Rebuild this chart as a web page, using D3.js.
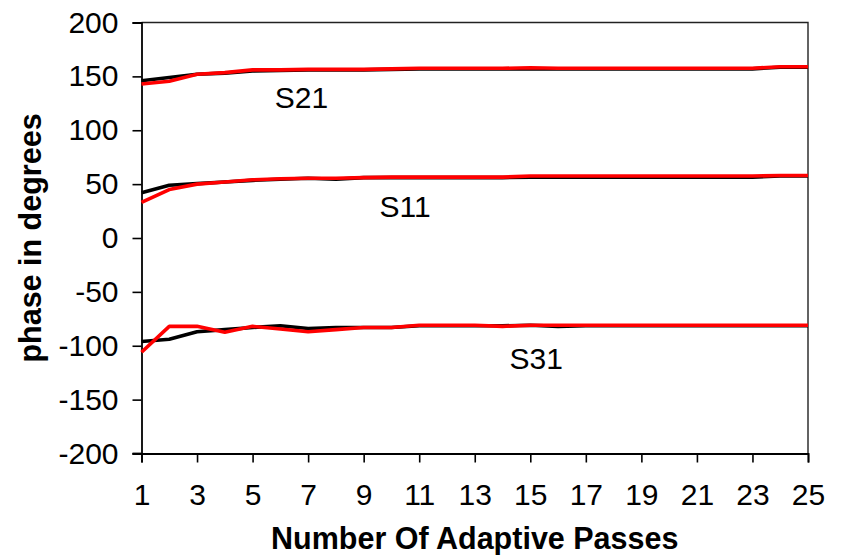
<!DOCTYPE html>
<html>
<head>
<meta charset="utf-8">
<script src="https://cdn.jsdelivr.net/npm/d3@7"></script>
<style>
  html, body { margin: 0; padding: 0; background: #fff; }
  svg { display: block; font-family: "Liberation Sans", Arial, sans-serif; }
</style>
</head>
<body>
<svg id="chart" width="842" height="555"></svg>
<script>
// ---- data ----
const passes = [1,2,3,4,5,6,7,8,9,10,11,12,13,14,15,16,17,18,19,20,21,22,23,24,25];
const xTickValues = [1,3,5,7,9,11,13,15,17,19,21,23,25];
const yTickValues = [-200,-150,-100,-50,0,50,100,150,200];

const s21Black = [146,149,152,153,155,155.5,156,156,156,156.5,157,157,157,157,157,157,157,157,157,157,157,157,157,158.5,158.5];
const s21Red   = [143,145.5,152,153.5,156,156,156.5,156.5,156.5,157,157.5,157.5,157.5,157.5,158,157.5,157.5,157.5,157.5,157.5,157.5,157.5,157.5,159,159];
const s11Black = [42,49,50.5,52,53.5,54.5,55.5,54.5,56,56,56,56,56,56,56.5,56.5,56.5,56.5,56.5,56.5,56.5,56.5,56.5,57.5,57.5];
const s11Red   = [33,45,50,52,54,55,55.5,55.5,56,56.5,56.5,56.5,56.5,56.5,57.5,57.5,57.5,57.5,57.5,57.5,57.5,57.5,57.5,58,58];
const s31Black = [-96,-94,-87,-85,-83,-81.5,-84,-83,-83,-83,-81.5,-81.5,-81.5,-81.5,-81,-82,-81.5,-81.5,-81.5,-81.5,-81.5,-81.5,-81.5,-81.5,-81.5];
const s31Red   = [-106,-82,-82,-87.5,-82,-84.5,-87,-85,-83,-83,-81,-81,-81,-82,-81,-81,-81,-81,-81,-81,-81,-81,-81,-81,-81];

const labelNames = ["S21","S11","S31"];
const labelPass  = [5.8, 9.57, 14.25];
const labelValue = [120.6, 19.8, -121.9];

const xTitle = "Number Of Adaptive Passes";
const yTitle = "phase in degrees";

// ---- layout ----
const mLeft = 141.5, mRight = 808, mTop = 22.5, mBottom = 453.5;
const svg = d3.select("#chart");

const x = d3.scaleLinear().domain([1,25]).range([mLeft,mRight]);
const y = d3.scaleLinear().domain([-200,200]).range([mBottom,mTop]);

// plot frame (top & right)
svg.append("path")
  .attr("d", `M${mLeft},${mTop}H${mRight}V${mBottom}`)
  .attr("fill","none").attr("stroke","#222").attr("stroke-width",1.4);

// y axis
const yAxis = svg.append("g").attr("transform",`translate(${mLeft},0)`)
  .call(d3.axisLeft(y).tickValues(yTickValues).tickSize(9).tickPadding(14).tickFormat(d => String(d)));
// x axis
const xAxis = svg.append("g").attr("transform",`translate(0,${mBottom})`)
  .call(d3.axisBottom(x).tickValues(xTickValues).tickSize(9).tickPadding(21).tickFormat(d => String(d)));

[yAxis, xAxis].forEach(g => {
  g.select(".domain").attr("stroke","#000").attr("stroke-width",1.8);
  g.selectAll(".tick line").attr("stroke","#000").attr("stroke-width",1.6);
  g.selectAll(".tick text").attr("fill","#000").style("font-size","30px")
    .style("font-family","'Liberation Sans', Arial, sans-serif");
});
// x-axis line extends to the left to meet the -200 tick
svg.append("line").attr("x1", mLeft-9).attr("x2", mLeft).attr("y1", mBottom).attr("y2", mBottom)
  .attr("stroke","#000").attr("stroke-width",1.8);

// lines
const line = d3.line().x((d,i) => x(passes[i])).y(d => y(d));
const seriesList = [
  {v: s21Black, c: "#000000"}, {v: s11Black, c: "#000000"}, {v: s31Black, c: "#000000"},
  {v: s21Red, c: "#ff0000"}, {v: s11Red, c: "#ff0000"}, {v: s31Red, c: "#ff0000"}
];
seriesList.forEach(s => {
  svg.append("path").datum(s.v).attr("d", line)
    .attr("fill","none").attr("stroke", s.c).attr("stroke-width",3.6)
    .attr("stroke-linejoin","round").attr("stroke-linecap","butt");
});

// series annotations
labelNames.forEach((t,i) => {
  svg.append("text").attr("x", x(labelPass[i])).attr("y", y(labelValue[i]))
    .attr("text-anchor","start").style("font-size","30px").attr("fill","#000").text(t);
});

// titles
svg.append("text").attr("x", (mLeft+mRight)/2).attr("y", 549)
  .attr("text-anchor","middle").style("font-size","30.5px").style("font-weight","bold")
  .attr("fill","#000").text(xTitle);
svg.append("text").attr("transform", `translate(41,${(mTop+mBottom)/2}) rotate(-90)`)
  .attr("text-anchor","middle").style("font-size","30.5px").style("font-weight","bold")
  .attr("fill","#000").text(yTitle);
</script>
</body>
</html>
